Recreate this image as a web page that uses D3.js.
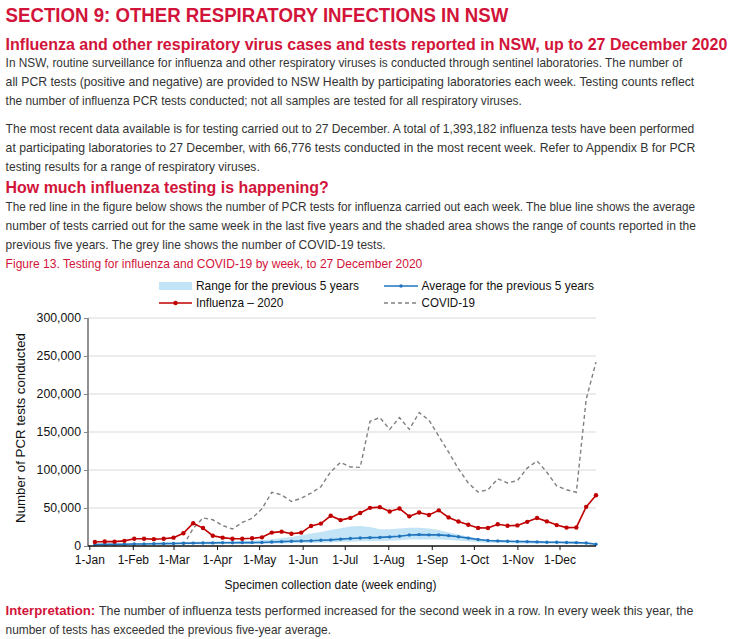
<!DOCTYPE html>
<html><head><meta charset="utf-8">
<script src="https://cdn.jsdelivr.net/npm/d3@7"></script>
<style>body{margin:0;background:#fff} svg{display:block}</style>
</head><body>
<svg id="c" width="736" height="639"></svg>
<script>
// ---------- DATA ----------
const weekEnding = ["2020-01-05","2020-01-12","2020-01-19","2020-01-26","2020-02-02","2020-02-09","2020-02-16","2020-02-23",
"2020-03-01","2020-03-08","2020-03-15","2020-03-22","2020-03-29","2020-04-05","2020-04-12","2020-04-19","2020-04-26",
"2020-05-03","2020-05-10","2020-05-17","2020-05-24","2020-05-31","2020-06-07","2020-06-14","2020-06-21","2020-06-28",
"2020-07-05","2020-07-12","2020-07-19","2020-07-26","2020-08-02","2020-08-09","2020-08-16","2020-08-23","2020-08-30",
"2020-09-06","2020-09-13","2020-09-20","2020-09-27","2020-10-04","2020-10-11","2020-10-18","2020-10-25",
"2020-11-01","2020-11-08","2020-11-15","2020-11-22","2020-11-29","2020-12-06","2020-12-13","2020-12-20","2020-12-27"];
const influenza2020 = [5300,6000,5700,6800,9500,9500,9000,9500,11000,16800,29900,23600,13500,11000,9500,9600,10100,11400,17600,18900,16100,17600,26400,29500,39800,34100,37000,43500,50200,51100,45400,49300,39000,44000,40800,46900,37600,32200,28000,23800,23600,28600,26700,27100,31800,36800,32400,27500,24200,24400,51500,66776];
const average5y = [1900,2100,2200,2300,2600,2700,2900,3100,3300,3600,3800,3900,4100,4300,4200,4400,4500,4700,5200,5700,6300,6600,7000,7500,8000,9000,9800,10500,11000,11300,12000,12900,14500,15000,14700,14600,13700,12100,10400,8600,7300,6700,6200,5900,5700,5400,5000,4900,4600,4400,4000,2400];
const rangeMax5y = [3000,3200,3400,3600,3900,4100,4400,4700,5000,5300,5600,5800,6000,6200,6300,6600,7000,7800,9000,10500,12000,14000,16500,18500,21000,23500,25500,26300,25000,22000,22000,23000,24000,24000,23000,21000,18000,15000,12500,10000,8500,7500,7000,6800,6600,6400,6200,6000,5800,5600,5300,3500];
const rangeMin5y = [1000,1100,1300,1400,1500,1600,1800,1900,2000,2100,2200,2300,2400,2500,2500,2600,2700,2800,3100,3400,3700,3900,4100,4400,4700,5200,5700,6100,6400,6600,7000,7500,8400,8700,8600,8500,8000,7000,6100,5000,4300,3900,3600,3400,3300,3100,2900,2800,2700,2600,2300,1400];
const covid19 = [null,null,null,null,null,null,null,null,null,1000,23000,37000,34500,27000,22400,31000,36500,49000,70700,67300,58600,62800,69600,78000,97800,110000,104000,103500,164000,169000,153500,169000,153500,175500,165500,144500,123500,101500,83000,71000,74000,88300,83000,86000,102500,112000,97000,79000,74000,70700,193000,242000];
const yTicks = [0,50000,100000,150000,200000,250000,300000];
const xTickDates = ["2020-01-01","2020-02-01","2020-03-01","2020-04-01","2020-05-01","2020-06-01","2020-07-01","2020-08-01","2020-09-01","2020-10-01","2020-11-01","2020-12-01"];

// ---------- STYLE ----------
const FONT = "'Liberation Sans', Arial, sans-serif";
const RED_T = "#d2143a", BODY = "#333333";
const C_RED = "#c00000", C_BLUE = "#1f74bd", C_SHADE = "#c3e4f7", C_GREY = "#808080";

const svg = d3.select("#c");

// text compressed horizontally to a target width with a scale transform
function txt(x, y, s, o = {}) {
  const t = svg.append("text").attr("x", 0).attr("y", 0).text(s)
    .attr("font-family", FONT).attr("font-size", o.size || 13)
    .attr("fill", o.fill || BODY).attr("font-weight", o.bold ? "bold" : "normal");
  if (o.anchor) t.attr("text-anchor", o.anchor);
  let sx = 1;
  if (o.len) { const w = t.node().getComputedTextLength(); if (w > 0) sx = o.len / w; }
  t.attr("transform", `translate(${x},${y})${o.rot ? " rotate(" + o.rot + ")" : ""} scale(${sx.toFixed(4)},1)`);
  return t;
}

txt(5.6, 22, "SECTION 9: OTHER RESPIRATORY INFECTIONS IN NSW", {size: 20, bold: true, fill: RED_T, len: 503});
txt(5.6, 50, "Influenza and other respiratory virus cases and tests reported in NSW, up to 27 December 2020", {size: 17, bold: true, fill: RED_T, len: 722});
txt(5.6, 67, "In NSW, routine surveillance for influenza and other respiratory viruses is conducted through sentinel laboratories. The number of", {len: 677});
txt(5.6, 86, "all PCR tests (positive and negative) are provided to NSW Health by participating laboratories each week. Testing counts reflect", {len: 689.5});
txt(5.6, 105, "the number of influenza PCR tests conducted; not all samples are tested for all respiratory viruses.", {len: 516.5});
txt(5.6, 133, "The most recent data available is for testing carried out to 27 December. A total of 1,393,182 influenza tests have been performed", {len: 689.5});
txt(5.6, 152, "at participating laboratories to 27 December, with 66,776 tests conducted in the most recent week. Refer to Appendix B for PCR", {len: 690.5});
txt(5.6, 171, "testing results for a range of respiratory viruses.", {len: 254.5});
txt(5.6, 193, "How much influenza testing is happening?", {size: 17, bold: true, fill: RED_T, len: 323.5});
txt(5.6, 211, "The red line in the figure below shows the number of PCR tests for influenza carried out each week. The blue line shows the average", {len: 690.5});
txt(5.6, 230, "number of tests carried out for the same week in the last five years and the shaded area shows the range of counts reported in the", {len: 690.5});
txt(5.6, 249, "previous five years. The grey line shows the number of COVID-19 tests.", {len: 380.5});
txt(5.6, 268, "Figure 13. Testing for influenza and COVID-19 by week, to 27 December 2020", {size: 13, fill: RED_T, len: 417.5});

// ---------- CHART ----------
const parse = d3.utcParse("%Y-%m-%d");
const dates = weekEnding.map(parse);
const x = d3.scaleUtc().domain([parse("2020-01-01"), parse("2020-12-27")]).range([89.3, 596]);
const y = d3.scaleLinear().domain([0, 300000]).range([546, 318]);
const X0 = 88, X1 = 596;

// gridlines
svg.append("g").selectAll("line").data(yTicks.filter(d => d > 0)).join("line")
  .attr("x1", X0).attr("x2", X1).attr("y1", d => y(d)).attr("y2", d => y(d))
  .attr("stroke", "#d9d9d9").attr("stroke-width", 1);

// range area
const area = d3.area().x((d, i) => x(dates[i])).y0((d, i) => y(rangeMin5y[i])).y1((d, i) => y(rangeMax5y[i]));
svg.append("path").datum(rangeMax5y).attr("d", area).attr("fill", C_SHADE);

// covid dashed
const lineC = d3.line().defined(d => d != null).x((d, i) => x(dates[i])).y(d => y(d));
svg.append("path").datum(covid19).attr("d", lineC).attr("fill", "none")
  .attr("stroke", C_GREY).attr("stroke-width", 1.4).attr("stroke-dasharray", "4,3");

// average
const lineY = arr => d3.line().x((d, i) => x(dates[i])).y(d => y(d))(arr);
svg.append("path").attr("d", lineY(average5y)).attr("fill", "none").attr("stroke", C_BLUE).attr("stroke-width", 1.6);
svg.append("g").selectAll("circle").data(average5y).join("circle")
  .attr("cx", (d, i) => x(dates[i])).attr("cy", d => y(d)).attr("r", 1.7).attr("fill", C_BLUE);

// influenza
svg.append("path").attr("d", lineY(influenza2020)).attr("fill", "none").attr("stroke", C_RED).attr("stroke-width", 1.6);
svg.append("g").selectAll("circle").data(influenza2020).join("circle")
  .attr("cx", (d, i) => x(dates[i])).attr("cy", d => y(d)).attr("r", 2.2).attr("fill", C_RED);

// y axis
const yAxis = d3.axisLeft(y).tickValues(yTicks).tickSize(4).tickPadding(3).tickFormat(d3.format(","));
const gy = svg.append("g").attr("transform", `translate(${X0},0)`).call(yAxis);
gy.select(".domain").attr("stroke", "#868686").attr("stroke-width", 1.8).attr("d", `M-0,318V546`);
gy.selectAll(".tick line").attr("stroke", "#868686");
gy.selectAll("text").attr("font-family", FONT).attr("font-size", 12.3).attr("fill", "#111");

// x axis
const xAxis = d3.axisBottom(x).tickValues(xTickDates.map(parse)).tickSize(4).tickPadding(5).tickFormat(d3.utcFormat("1-%b"));
const gx = svg.append("g").attr("transform", "translate(0,546)").call(xAxis);
gx.select(".domain").attr("stroke", "#111").attr("stroke-width", 1.3).attr("d", `M${X0},0H${X1}`);
gx.selectAll(".tick line").attr("stroke", "#111");
gx.selectAll("text").attr("font-family", FONT).attr("font-size", 12).attr("fill", "#111");

// axis titles
txt(25, 428, "Number of PCR tests conducted", {size: 13, fill: "#111", anchor: "middle", len: 190, rot: -90});
txt(330.5, 589, "Specimen collection date (week ending)", {size: 13, fill: "#111", anchor: "middle", len: 212});

// legend
svg.append("rect").attr("x", 159).attr("y", 282).attr("width", 33).attr("height", 8).attr("fill", C_SHADE);
txt(196, 290, "Range for the previous 5 years", {size: 12.5, fill: "#111", len: 163});
svg.append("line").attr("x1", 384).attr("x2", 418).attr("y1", 286).attr("y2", 286).attr("stroke", C_BLUE).attr("stroke-width", 1.6);
svg.append("circle").attr("cx", 401).attr("cy", 286).attr("r", 1.7).attr("fill", C_BLUE);
txt(421.6, 290, "Average for the previous 5 years", {size: 12.5, fill: "#111", len: 172.4});
svg.append("line").attr("x1", 159).attr("x2", 192).attr("y1", 303).attr("y2", 303).attr("stroke", C_RED).attr("stroke-width", 1.6);
svg.append("circle").attr("cx", 175.5).attr("cy", 303).attr("r", 2.2).attr("fill", C_RED);
txt(196, 307, "Influenza \u2013 2020", {size: 12.5, fill: "#111", len: 87.6});
svg.append("line").attr("x1", 384).attr("x2", 418).attr("y1", 303).attr("y2", 303).attr("stroke", C_GREY).attr("stroke-width", 1.4).attr("stroke-dasharray", "4,3");
txt(421.6, 307, "COVID-19", {size: 12.5, fill: "#111", len: 53.4});

// interpretation
txt(5.6, 615, "Interpretation:", {size: 13, bold: true, fill: RED_T, len: 89.7});
txt(99, 615, "The number of influenza tests performed increased for the second week in a row. In every week this year, the", {len: 595});
txt(5.6, 634, "number of tests has exceeded the previous five-year average.", {len: 326});
</script>
</body></html>
